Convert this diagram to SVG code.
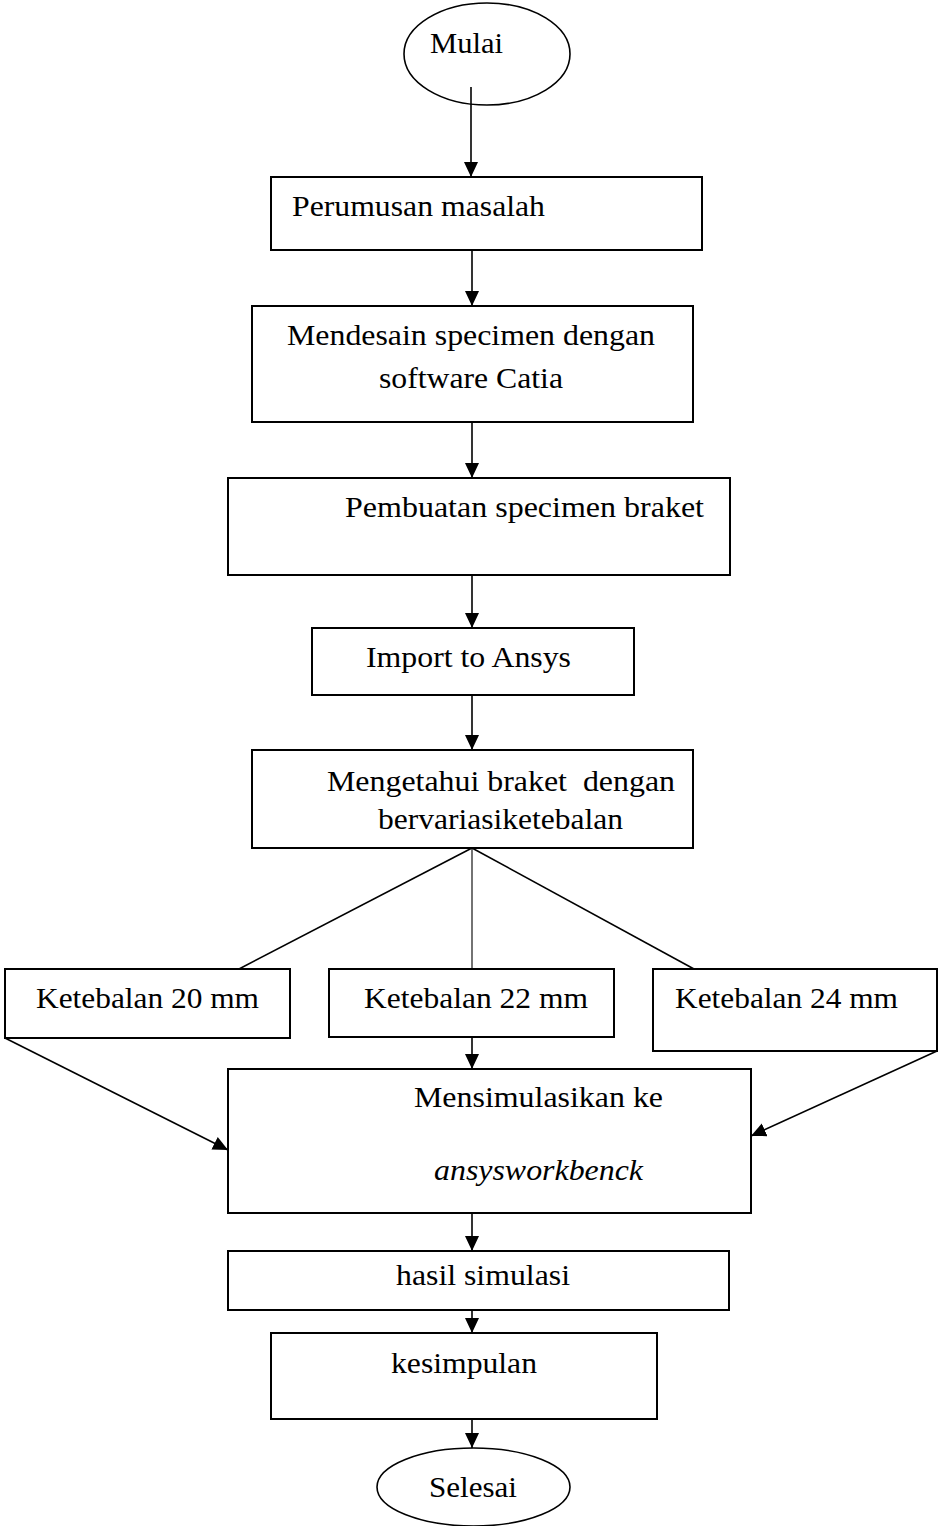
<svg xmlns="http://www.w3.org/2000/svg" width="939" height="1526" viewBox="0 0 939 1526">
<style>
.box{fill:#fff;stroke:#000;stroke-width:2}
.el{fill:#fff;stroke:#000;stroke-width:1.6}
text{font-family:'Liberation Serif',Tinos,'Times New Roman',Times,serif;font-size:29px;fill:#000;white-space:pre}
.i{font-style:italic}
.c{fill:none;stroke:#000;stroke-width:1.6}
.thin{stroke-width:1.1}
</style>
<defs>
<marker id="ah" markerWidth="16" markerHeight="14" refX="15" refY="7" orient="auto" markerUnits="userSpaceOnUse">
<path d="M0,0 L15,7 L0,14 z" fill="#000"/>
</marker>
</defs>
<rect width="939" height="1526" fill="#fff"/>
<g id="mulai">
<ellipse class="el" cx="487" cy="54" rx="83" ry="51"/>
<text x="430" y="53" textLength="73" lengthAdjust="spacingAndGlyphs">Mulai</text>
</g>
<g id="perumusan">
<rect class="box" x="271" y="177" width="431" height="73"/>
<text x="292" y="216" textLength="253" lengthAdjust="spacingAndGlyphs">Perumusan masalah</text>
</g>
<g id="mendesain">
<rect class="box" x="252" y="306" width="441" height="116"/>
<text x="287" y="345" textLength="368" lengthAdjust="spacingAndGlyphs">Mendesain specimen dengan</text>
<text x="379" y="388" textLength="184" lengthAdjust="spacingAndGlyphs">software Catia</text>
</g>
<g id="pembuatan">
<rect class="box" x="228" y="478" width="502" height="97"/>
<text x="345" y="517" textLength="359" lengthAdjust="spacingAndGlyphs">Pembuatan specimen braket</text>
</g>
<g id="import">
<rect class="box" x="312" y="628" width="322" height="67"/>
<text x="366" y="667" textLength="205" lengthAdjust="spacingAndGlyphs">Import to Ansys</text>
</g>
<g id="mengetahui">
<rect class="box" x="252" y="750" width="441" height="98"/>
<text x="327" y="791" textLength="348" lengthAdjust="spacingAndGlyphs">Mengetahui braket  dengan</text>
<text x="378" y="829" textLength="245" lengthAdjust="spacingAndGlyphs">bervariasiketebalan</text>
</g>
<g id="k20">
<rect class="box" x="5" y="969" width="285" height="69"/>
<text x="36" y="1008" textLength="223" lengthAdjust="spacingAndGlyphs">Ketebalan 20 mm</text>
</g>
<g id="k22">
<rect class="box" x="329" y="969" width="285" height="68"/>
<text x="364" y="1008" textLength="224" lengthAdjust="spacingAndGlyphs">Ketebalan 22 mm</text>
</g>
<g id="k24">
<rect class="box" x="653" y="969" width="284" height="82"/>
<text x="675" y="1008" textLength="223" lengthAdjust="spacingAndGlyphs">Ketebalan 24 mm</text>
</g>
<g id="mensimulasikan">
<rect class="box" x="228" y="1069" width="523" height="144"/>
<text x="414" y="1107" textLength="249" lengthAdjust="spacingAndGlyphs">Mensimulasikan ke</text>
<text class="i" x="434" y="1180" textLength="209" lengthAdjust="spacingAndGlyphs">ansysworkbenck</text>
</g>
<g id="hasil">
<rect class="box" x="228" y="1251" width="501" height="59"/>
<text x="396" y="1285" textLength="174" lengthAdjust="spacingAndGlyphs">hasil simulasi</text>
</g>
<g id="kesimpulan">
<rect class="box" x="271" y="1333" width="386" height="86"/>
<text x="391" y="1373" textLength="146" lengthAdjust="spacingAndGlyphs">kesimpulan</text>
</g>
<g id="selesai">
<ellipse class="el" cx="473.5" cy="1487" rx="96.5" ry="39"/>
<text x="429" y="1497" textLength="88" lengthAdjust="spacingAndGlyphs">Selesai</text>
</g>
<g id="connectors">
<line class="c" x1="471" y1="87" x2="471" y2="177" marker-end="url(#ah)"/>
<line class="c" x1="472" y1="250" x2="472" y2="306" marker-end="url(#ah)"/>
<line class="c" x1="472" y1="422" x2="472" y2="478" marker-end="url(#ah)"/>
<line class="c" x1="472" y1="575" x2="472" y2="628" marker-end="url(#ah)"/>
<line class="c" x1="472" y1="695" x2="472" y2="750" marker-end="url(#ah)"/>
<line class="c" x1="472" y1="848" x2="239" y2="969"/>
<line class="c thin" x1="472" y1="848" x2="472" y2="969"/>
<line class="c" x1="472" y1="848" x2="694" y2="969"/>
<line class="c" x1="5" y1="1038" x2="228" y2="1150" marker-end="url(#ah)"/>
<line class="c" x1="472" y1="1037" x2="472" y2="1069" marker-end="url(#ah)"/>
<line class="c" x1="937" y1="1051" x2="751" y2="1136" marker-end="url(#ah)"/>
<line class="c" x1="472" y1="1213" x2="472" y2="1251" marker-end="url(#ah)"/>
<line class="c" x1="472" y1="1310" x2="472" y2="1333" marker-end="url(#ah)"/>
<line class="c" x1="472" y1="1419" x2="472" y2="1448" marker-end="url(#ah)"/>
</g>
</svg>
